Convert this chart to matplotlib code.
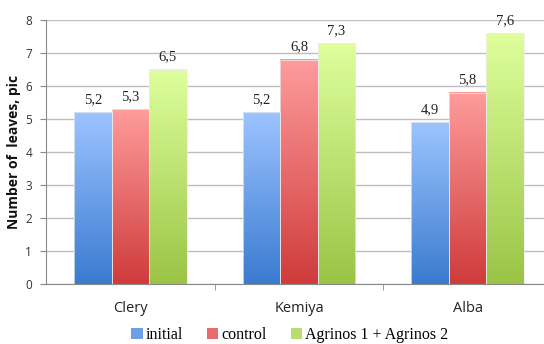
import matplotlib
matplotlib.use('Agg')
import matplotlib.pyplot as plt
from matplotlib.colors import LinearSegmentedColormap
from matplotlib.patches import Patch
import numpy as np

# --- data ---
categories = ['Clery', 'Kemiya', 'Alba']
series_names = ['initial', 'control', 'Agrinos 1 + Agrinos 2']
initial = [5.2, 5.2, 4.9]
control = [5.3, 6.8, 5.8]
agrinos = [6.5, 7.3, 7.6]
yticks = [0, 1, 2, 3, 4, 5, 6, 7, 8]

# --- style: (bottom colour, top colour, legend colour) ---
grads = [('#3A7BD0', '#9DC4FF', '#6F9FE6'),
         ('#CF3B3B', '#FF9C9C', '#E86A6A'),
         ('#9BC446', '#DEFF9C', '#B8DD6E')]

fig = plt.figure(figsize=(5.44, 3.44), dpi=100)
ax = fig.add_axes([46/544, 60/344, 506/544, 264/344])

x = np.arange(len(categories))
width = 0.223
values = [initial, control, agrinos]
ramp = np.linspace(0, 1, 256).reshape(-1, 1)

for i, (vals, (c0, c1, _)) in enumerate(zip(values, grads)):
    cmap = LinearSegmentedColormap.from_list('g%d' % i, [c0, c1])
    for j, v in enumerate(vals):
        x0 = x[j] + (i - 1) * width - width / 2
        ax.imshow(ramp, extent=[x0, x0 + width, 0, v], origin='lower',
                  aspect='auto', cmap=cmap, zorder=2, interpolation='bilinear')
        ax.add_patch(plt.Rectangle((x0, 0), width, v, fill=False,
                                   edgecolor='#ececec', linewidth=0.5, zorder=3))
        ax.text(x0 + width / 2, v + 0.18, f'{v:.1f}'.replace('.', ','),
                ha='center', va='bottom', fontsize=10.5,
                family='Liberation Serif', color='#222222', zorder=4)

ax.set_xlim(-0.5, len(categories) - 0.5)
ax.set_ylim(0, 8)
ax.set_yticks(yticks)
ax.set_yticklabels([str(t) for t in yticks], family='Open Sans', fontsize=8.5, color='#333333')
ax.set_xticks(x)
ax.set_xticklabels(categories, family='Open Sans', fontsize=10.5, color='#222222')
ax.set_xticks([0.5, 1.5], minor=True)
ax.tick_params(axis='x', which='major', length=0, pad=12)
ax.tick_params(axis='x', which='minor', length=4, color='#888888')
ax.tick_params(axis='y', length=4, color='#888888', pad=6)

ax.yaxis.grid(True, color='#BEBEBE', linewidth=1.0, zorder=0)
ax.set_axisbelow(True)
for s in ['top', 'right']:
    ax.spines[s].set_visible(False)
ax.spines['left'].set_color('#888888')
ax.spines['bottom'].set_color('#888888')

ax.set_ylabel('Number of  leaves, pic', family='Open Sans', fontweight='bold',
              fontsize=10, color='#111111', labelpad=3)

handles = [Patch(facecolor=g[2], edgecolor='none') for g in grads]
fig.legend(handles, series_names, loc='lower left', bbox_to_anchor=(117/544, -0.038),
           ncol=3, frameon=False, handlelength=0.7, handleheight=0.7,
           handletextpad=0.2, columnspacing=1.5,
           prop={'family': 'Liberation Serif', 'size': 11.5})

fig.savefig('out.png', dpi=100, facecolor='white')
